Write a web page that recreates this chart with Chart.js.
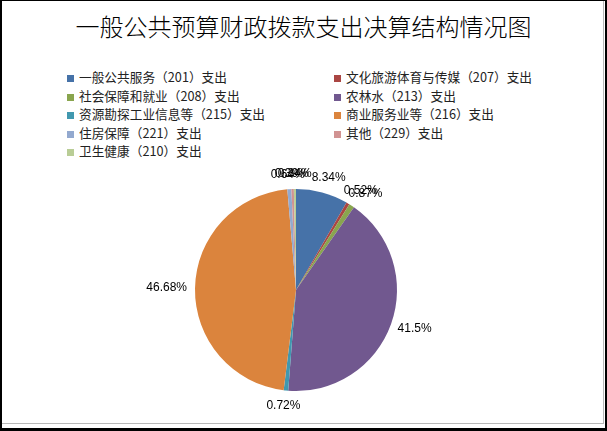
<!DOCTYPE html>
<html>
<head>
<meta charset="utf-8">
<script src="https://cdn.jsdelivr.net/npm/chart.js@4.4.0/dist/chart.umd.min.js"></script>
<style>
  html, body { margin: 0; padding: 0; background: #fff; }
  #frame {
    position: relative; width: 607px; height: 431px; box-sizing: border-box;
    border-top: 1px solid #000; border-left: 2px solid #000;
    border-right: 2px solid #000; border-bottom: 3px solid #000;
    overflow: hidden;
  }
  #inner {
    position: absolute; left: 0; top: 0; right: 1px; bottom: 4px;
    border-right: 1px solid #b8b8b8; border-bottom: 1px solid #b8b8b8;
  }
  #title {
    position: absolute; left: 0; right: 0; top: 7px; text-align: center;
    font-family: "Noto Sans CJK SC", sans-serif; font-size: 24px; color: #000;
    font-weight: 300;
  }
  #legend {
    position: absolute; left: 65px; top: 67px; width: 500px;
    display: grid; grid-template-columns: 267px 230px;
    font-family: "Noto Sans CJK SC", sans-serif; font-size: 12.7px; color: #222;
  }
  #legend .item { height: 18.6px; line-height: 18.6px; white-space: nowrap; }
  #legend .box { display: inline-block; width: 7px; height: 7px; margin-right: 5px; vertical-align: 0px; }
  #chartWrap { position: absolute; left: -2px; top: -1px; width: 607px; height: 431px; }
</style>
</head>
<body>
<div id="frame">
  <div id="inner"></div>
  <div id="title">一般公共预算财政拨款支出决算结构情况图</div>
  <div id="legend"></div>
  <div id="chartWrap"><canvas id="pie"></canvas></div>
</div>
<script>
const categories = [
  '一般公共服务（201）支出',
  '文化旅游体育与传媒（207）支出',
  '社会保障和就业（208）支出',
  '农林水（213）支出',
  '资源勘探工业信息等（215）支出',
  '商业服务业等（216）支出',
  '住房保障（221）支出',
  '其他（229）支出',
  '卫生健康（210）支出'
];
const shares = [8.34, 0.52, 0.87, 41.5, 0.72, 46.68, 0.64, 0.39, 0.34];
const labelText = ['8.34%', '0.52%', '0.87%', '41.5%', '0.72%', '46.68%', '0.64%', '0.39%', '0.34%'];
const colors = ['#4672A8', '#AA4643', '#89A54E', '#71588F', '#4198AF', '#DB843D', '#93A9CF', '#D19392', '#B9CD96'];

// labels outside each slice, placed from the arc element geometry
const outsideLabels = {
  id: 'outsideLabels',
  afterDatasetsDraw(chart) {
    const ctx = chart.ctx;
    const meta = chart.getDatasetMeta(0);
    ctx.save();
    ctx.font = '12px "Liberation Sans", Arial, sans-serif';
    ctx.fillStyle = '#000';
    ctx.textAlign = 'center';
    ctx.textBaseline = 'middle';
    meta.data.forEach((arc, i) => {
      const p = arc.getProps(['x', 'y', 'startAngle', 'endAngle', 'outerRadius'], true);
      const a = (p.startAngle + p.endAngle) / 2;
      const txt = labelText[i];
      const w = ctx.measureText(txt).width;
      const r = p.outerRadius + 8;
      const x = p.x + Math.cos(a) * r + Math.cos(a) * w / 2;
      const y = p.y + Math.sin(a) * r + Math.sin(a) * 7;
      ctx.fillText(txt, x, y);
    });
    ctx.restore();
  }
};

document.addEventListener('DOMContentLoaded', () => {
  const chart = new Chart(document.getElementById('pie'), {
    type: 'pie',
    data: {
      labels: categories,
      datasets: [{
        data: shares,
        backgroundColor: colors,
        borderWidth: 0
      }]
    },
    options: {
      responsive: true,
      maintainAspectRatio: false,
      animation: false,
      layout: { padding: { left: 195, right: 210, top: 189, bottom: 40 } },
      plugins: {
        legend: { display: false },
        tooltip: { enabled: false }
      }
    },
    plugins: [outsideLabels]
  });

  const legendEl = document.getElementById('legend');
  const items = Chart.overrides.pie.plugins.legend.labels.generateLabels(chart);
  items.forEach(item => {
    const div = document.createElement('div');
    div.className = 'item';
    div.innerHTML = `<span class="box" style="background:${item.fillStyle}"></span>${item.text}`;
    legendEl.appendChild(div);
  });
});
</script>
</body>
</html>
